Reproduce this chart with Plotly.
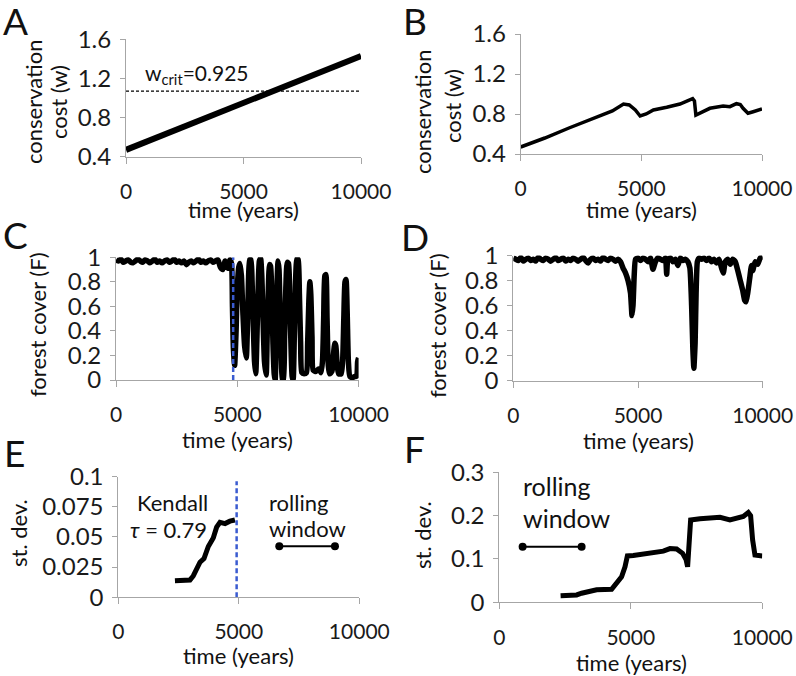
import plotly.graph_objects as go

W, H = 796, 676

# ---------------- data ----------------
# Panel A: conservation cost, linear ramp
a_time = [0, 10000]
a_cost = [0.47, 1.43]
a_wcrit_level = 1.07

# Panel B: conservation cost with feedback
b_time = [0, 1000, 2000, 3000, 3800, 4260, 4500, 4750, 4950, 5200, 5500, 6050, 6600, 7125,
          7200, 7260, 7500, 7840, 8390, 8670, 8940, 9100, 9215, 9420, 9600, 9770, 10000]
b_cost = [0.47, 0.56, 0.66, 0.75, 0.83, 0.90, 0.89, 0.84, 0.78, 0.80, 0.84, 0.867, 0.90, 0.953,
          0.93, 0.79, 0.82, 0.857, 0.88, 0.873, 0.903, 0.895, 0.857, 0.807, 0.82, 0.83, 0.85]

# Panel C: forest cover, linear ramp of w
c_time = [0, 100, 200, 300, 400, 500, 600, 700, 800, 900, 1000, 1100, 1200, 1300, 1400, 1500,
          1600, 1700, 1800, 1900, 2000, 2100, 2200, 2300, 2400, 2500, 2600, 2700, 2800, 2900,
          3000, 3100, 3200, 3300, 3400, 3500, 3600, 3700, 3800, 3900, 4000, 4100, 4200, 4300,
          4400, 4500, 4600, 4700, 4760, 4800, 4840, 4890,
          4950, 5000, 5060, 5110, 5170, 5230, 5300, 5370,
          5420, 5460, 5510, 5560, 5610, 5660, 5710, 5760,
          5810, 5860, 5910, 5960, 6010, 6060, 6120, 6190,
          6230, 6280, 6330, 6370, 6420, 6470, 6520, 6560,
          6600, 6640, 6680, 6720, 6760, 6810, 6860, 6900,
          6950, 7000, 7060, 7110, 7160, 7210, 7260, 7300,
          7350, 7400, 7460, 7510, 7560, 7610, 7660, 7750, 7850,
          7900, 7950, 7990, 8030, 8080, 8130, 8250, 8350, 8450, 8510,
          8560, 8610, 8650, 8700, 8750, 8800, 8900,
          8960, 9020, 9060, 9120, 9180, 9280, 9340,
          9390, 9440, 9480, 9530, 9580, 9640, 9750, 9850, 9920, 9960, 10000]
c_cover = [0.98, 0.97, 0.985, 0.96, 0.97, 0.98, 0.96, 0.955, 0.97, 0.985, 0.97, 0.96, 0.98, 0.97,
           0.955, 0.97, 0.985, 0.96, 0.97, 0.955, 0.97, 0.98, 0.96, 0.97, 0.985, 0.96, 0.97, 0.955,
           0.97, 0.94, 0.96, 0.97, 0.955, 0.97, 0.985, 0.96, 0.97, 0.955, 0.97, 0.98, 0.96, 0.97,
           0.98, 0.92, 0.90, 0.97, 0.91, 0.98, 0.95, 0.60, 0.25, 0.12,
           0.40, 0.75, 0.92, 0.95, 0.85, 0.55, 0.28, 0.18,
           0.45, 0.80, 0.98, 0.98, 0.80, 0.45, 0.15, 0.05,
           0.35, 0.75, 0.97, 0.99, 0.85, 0.50, 0.15, 0.04,
           0.35, 0.75, 0.94, 0.93, 0.70, 0.30, 0.05, 0.00,
           0.40, 0.80, 0.97, 0.90, 0.60, 0.20, 0.00, 0.00,
           0.35, 0.75, 0.96, 0.95, 0.70, 0.30, 0.03, 0.00,
           0.35, 0.80, 0.99, 0.98, 0.70, 0.30, 0.06, 0.05, 0.06,
           0.30, 0.65, 0.80, 0.70, 0.35, 0.08, 0.07, 0.09, 0.06, 0.15,
           0.50, 0.85, 0.86, 0.50, 0.12, 0.05, 0.07,
           0.20, 0.30, 0.28, 0.12, 0.05, 0.05, 0.15,
           0.50, 0.80, 0.82, 0.55, 0.15, 0.03, 0.02, 0.03, 0.03, 0.15, 0.18]
c_tip_time = 4830

# Panel D: forest cover with feedback
d_time = [0, 100, 200, 300, 400, 500, 600, 700, 800, 900, 1000, 1100, 1200, 1300, 1400, 1500,
          1600, 1700, 1800, 1900, 2000, 2100, 2200, 2300, 2400, 2500, 2600, 2700, 2800, 2900,
          3000, 3100, 3200, 3300, 3400, 3500, 3600, 3700, 3800, 3900, 4000, 4100, 4200,
          4300, 4400, 4500, 4600, 4700, 4760, 4800, 4850, 4900, 5000, 5100, 5200, 5300, 5400,
          5500, 5600, 5700, 5800, 5900, 6000, 6100, 6150, 6200, 6300, 6400, 6500, 6600, 6700,
          6800, 6900, 7000, 7080, 7150, 7200, 7240, 7290, 7330, 7380, 7450, 7550, 7650, 7750,
          7850, 7950, 8050, 8150, 8250, 8350, 8420, 8500, 8600, 8700, 8800, 8900, 9000, 9100,
          9200, 9280, 9330, 9400, 9480, 9550, 9600, 9700, 9800, 9900, 10000]
d_cover = [0.98, 0.97, 0.96, 0.985, 0.955, 0.97, 0.98, 0.96, 0.97, 0.955, 0.985, 0.97, 0.96, 0.98,
           0.97, 0.955, 0.97, 0.985, 0.96, 0.97, 0.98, 0.955, 0.97, 0.96, 0.98, 0.97, 0.955, 0.97,
           0.985, 0.96, 0.94, 0.97, 0.98, 0.96, 0.97, 0.955, 0.985, 0.97, 0.96, 0.98, 0.97, 0.955,
           0.97,
           0.95, 0.90, 0.86, 0.80, 0.70, 0.52, 0.60, 0.85, 0.97, 0.98, 0.96, 0.98, 0.97, 0.95,
           0.98, 0.89, 0.95, 0.98, 0.97, 0.96, 0.98, 0.85, 0.97, 0.98, 0.95, 0.97, 0.92, 0.98,
           0.96, 0.97, 0.95, 0.90, 0.60, 0.25, 0.10, 0.30, 0.70, 0.95, 0.98, 0.97, 0.98, 0.96,
           0.98, 0.95, 0.97, 0.94, 0.97, 0.90, 0.86, 0.95, 0.97, 0.93, 0.97, 0.95, 0.88, 0.80,
           0.72, 0.64, 0.63, 0.70, 0.82, 0.92, 0.88, 0.95, 0.93, 0.98, 0.99]

# Panel E: rolling st. dev. before tipping
e_time = [2350, 2600, 2975, 3110, 3280, 3390, 3555, 3735, 3940, 4080, 4220, 4430, 4630, 4840]
e_sd = [0.0137, 0.0139, 0.0143, 0.0176, 0.025, 0.029, 0.032, 0.042, 0.049, 0.058, 0.062, 0.061,
        0.063, 0.064]
e_tip_time = 4910
e_window = [6680, 8990]
e_window_level = 0.0423

# Panel F: rolling st. dev. with feedback
f_time = [2330, 2940, 3130, 3320, 3700, 4270, 4460, 4650, 4780, 4870, 5095, 5475, 5855, 6236,
          6490, 6743, 6970, 7100, 7160, 7224, 7275, 7630, 8137, 8390, 8770, 9024, 9278, 9468,
          9556, 9632, 9721, 10000]
f_sd = [0.0154, 0.017, 0.021, 0.024, 0.029, 0.030, 0.044, 0.059, 0.082, 0.107, 0.108, 0.111,
        0.116, 0.118, 0.124, 0.123, 0.113, 0.099, 0.082, 0.144, 0.190, 0.193, 0.194, 0.196,
        0.190, 0.195, 0.198, 0.207, 0.200, 0.144, 0.109, 0.107]
f_window = [887, 3130]
f_window_level = 0.128

x_ticks = [0, 5000, 10000]
x_ticklabels = ["0", "5000", "10000"]
ab_ticks = [0.4, 0.8, 1.2, 1.6]
ab_ticklabels = ["0.4", "0.8", "1.2", "1.6"]
cd_ticks = [0, 0.2, 0.4, 0.6, 0.8, 1.0]
cd_ticklabels = ["0", "0.2", "0.4", "0.6", "0.8", "1"]
e_ticks = [0, 0.025, 0.05, 0.075, 0.1]
e_ticklabels = ["0", "0.025", "0.05", "0.075", "0.1"]
f_ticks = [0, 0.1, 0.2, 0.3]
f_ticklabels = ["0", "0.1", "0.2", "0.3"]

# ---------------- helpers ----------------
FONT = "Lato"
AX = "#a6a6a6"
BLUE = "#3a5bd0"


def fx(p):
    return p / W


def fy(p):
    return 1 - p / H


fig = go.Figure()

# panel boxes (pixel): left, right, top, bottom
panels = {
    "": dict(l=126, r=361, t=39.3, b=156.7, yr=[0.4, 1.6], yt=ab_ticks, yl=ab_ticklabels),
    "2": dict(l=520.7, r=762, t=34, b=154, yr=[0.4, 1.6], yt=ab_ticks, yl=ab_ticklabels),
    "3": dict(l=116, r=358.6, t=257.3, b=380, yr=[0, 1], yt=cd_ticks, yl=cd_ticklabels),
    "4": dict(l=513.3, r=762.7, t=255.5, b=380.7, yr=[0, 1], yt=cd_ticks, yl=cd_ticklabels),
    "5": dict(l=118.3, r=359.3, t=476.5, b=597.2, yr=[0, 0.1], yt=e_ticks, yl=e_ticklabels),
    "6": dict(l=499.3, r=762.3, t=472.3, b=602.3, yr=[0, 0.3], yt=f_ticks, yl=f_ticklabels),
}

layout_axes = {}
for k, p in panels.items():
    layout_axes["xaxis" + k] = dict(
        domain=[fx(p["l"]), fx(p["r"])], range=[0, 10000], anchor="y" + k,
        tickvals=x_ticks, ticktext=x_ticklabels, showline=True, linecolor=AX, linewidth=1,
        ticks="outside", ticklen=6, tickcolor=AX, showgrid=False, zeroline=False,
        tickfont=dict(family=FONT, size=21, color="#1a1a1a"), ticklabelstandoff=10,
        automargin=False, fixedrange=True)
    layout_axes["yaxis" + k] = dict(
        domain=[fy(p["b"]), fy(p["t"])], range=p["yr"], anchor="x" + k,
        tickvals=p["yt"], ticktext=p["yl"], showline=True, linecolor=AX, linewidth=1,
        ticks="outside", ticklen=5, tickcolor=AX, showgrid=False, zeroline=False,
        tickfont=dict(family=FONT, size=24, color="#1a1a1a"), ticklabelstandoff=4,
        automargin=False, fixedrange=True)

# ---------------- traces ----------------
fig.add_trace(go.Scatter(x=a_time, y=[a_wcrit_level, a_wcrit_level], mode="lines",
                         line=dict(color="black", width=1.2, dash="3px,2px"),
                         xaxis="x", yaxis="y"))
fig.add_trace(go.Scatter(x=a_time, y=a_cost, mode="lines", line=dict(color="black", width=6),
                         xaxis="x", yaxis="y"))
fig.add_trace(go.Scatter(x=b_time, y=b_cost, mode="lines", line=dict(color="black", width=3.5),
                         xaxis="x2", yaxis="y2"))
fig.add_trace(go.Scatter(x=c_time, y=c_cover, mode="lines",
                         line=dict(color="black", width=5.5, shape="spline", smoothing=0.6),
                         xaxis="x3", yaxis="y3"))
fig.add_trace(go.Scatter(x=[c_tip_time, c_tip_time], y=[0, 1], mode="lines",
                         line=dict(color=BLUE, width=2.5, dash="5px,3px"),
                         xaxis="x3", yaxis="y3"))
fig.add_trace(go.Scatter(x=d_time, y=d_cover, mode="lines",
                         line=dict(color="black", width=5.5, shape="spline", smoothing=0.5),
                         xaxis="x4", yaxis="y4"))
fig.add_trace(go.Scatter(x=e_time, y=e_sd, mode="lines", line=dict(color="black", width=5),
                         xaxis="x5", yaxis="y5"))
fig.add_trace(go.Scatter(x=[e_tip_time, e_tip_time], y=[0, 0.096], mode="lines",
                         line=dict(color=BLUE, width=2.5, dash="5px,3px"),
                         xaxis="x5", yaxis="y5"))
fig.add_trace(go.Scatter(x=e_window, y=[e_window_level] * 2, mode="lines+markers",
                         line=dict(color="black", width=2), marker=dict(size=8, color="black"),
                         xaxis="x5", yaxis="y5"))
fig.add_trace(go.Scatter(x=f_time, y=f_sd, mode="lines", line=dict(color="black", width=5),
                         xaxis="x6", yaxis="y6"))
fig.add_trace(go.Scatter(x=f_window, y=[f_window_level] * 2, mode="lines+markers",
                         line=dict(color="black", width=2), marker=dict(size=8, color="black"),
                         xaxis="x6", yaxis="y6"))

# ---------------- annotations ----------------
ann = []


def txt(x, y, s, size=22, xanchor="center", yanchor="middle", angle=0):
    ann.append(dict(x=fx(x), y=fy(y), xref="paper", yref="paper", text=s, showarrow=False,
                    xanchor=xanchor, yanchor=yanchor, textangle=angle,
                    font=dict(family=FONT, size=size, color="#111")))


# panel letters
for letter, (x, y) in {"A": (1, 21), "B": (401, 21), "C": (1, 234), "D": (399, 236),
                       "E": (2, 452), "F": (402, 448)}.items():
    txt(x, y, letter, size=37, xanchor="left")

# y titles
txt(33, 102, "conservation", angle=-90)
txt(58, 102, "cost (w)", angle=-90)
txt(423, 112, "conservation", angle=-90)
txt(452, 106, "cost (w)", angle=-90)
txt(37, 325, "forest cover (F)", angle=-90)
txt(437, 326, "forest cover (F)", angle=-90)
txt(18, 533, "st. dev.", angle=-90)
txt(422, 535, "st. dev.", angle=-90)

# x titles
txt(243, 210, "time (years)")
txt(641, 210, "time (years)")
txt(237, 439, "time (years)")
txt(638, 440, "time (years)")
txt(238, 655, "time (years)")
txt(631, 662, "time (years)")

# in-plot text
txt(143, 74, "w<sub>crit</sub>=0.925", size=21, xanchor="left")
txt(172, 502, "Kendall")
txt(168, 529, "<i>τ</i> = 0.79")
txt(267, 502, "rolling", xanchor="left")
txt(267, 528, "window", xanchor="left")
txt(521, 486, "rolling", size=25, xanchor="left")
txt(521, 518, "window", size=25, xanchor="left")

fig.update_layout(width=W, height=H, margin=dict(l=0, r=0, t=0, b=0),
                  paper_bgcolor="white", plot_bgcolor="white", showlegend=False,
                  annotations=ann, **layout_axes)

fig.write_html("out.html", config={"displayModeBar": False},
               post_script="document.body.style.margin='0px';")
